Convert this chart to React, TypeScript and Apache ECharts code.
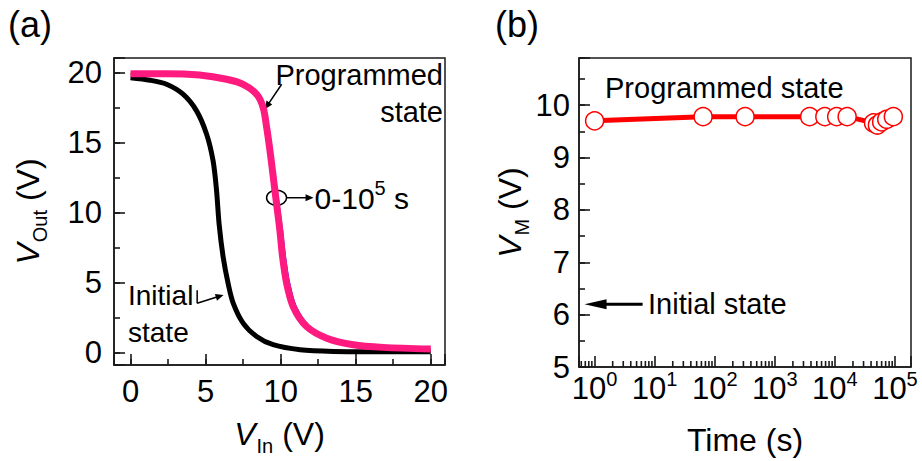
import React, { useEffect, useRef } from 'react';
import * as echarts from 'echarts';

const FONT = "'Liberation Sans', Arial, Helvetica, sans-serif";
const INK = '#000';
const AX = '#1a1a1a';

// ---------- Panel (a): transfer curves ----------
const vInInitial = [0, 1.3, 2.4, 3.5, 4.4, 5.07, 5.5, 5.73, 5.9, 6.17, 6.5, 6.84, 7.5, 8.4, 9.5, 11.3, 13.5, 16, 20];
const vOutInitial = [19.64, 19.46, 19.17, 18.46, 17.27, 15.6, 13.7, 11.6, 9.2, 6.83, 4.94, 3.52, 2.09, 1.14, 0.55, 0.19, 0.07, 0.05, 0.05];

const vOutProg = [19.93, 19.93, 19.83, 19.53, 19.17, 18.46, 17.5, 16.08, 14.43, 12.53, 10.63, 8.73, 6.83, 4.94, 3.27, 1.85, 1.02, 0.55, 0.36, 0.24];
const vInProgPink = [0, 2.4, 4.6, 6.4, 7.5, 8.4, 8.84, 9.07, 9.29, 9.51, 9.73, 9.95, 10.13, 10.4, 10.84, 11.73, 13.07, 14.84, 16.84, 20];
const vInProgBlue = [0, 2.4, 4.6, 6.4, 7.55, 8.45, 8.9, 9.14, 9.38, 9.62, 9.86, 10.1, 10.3, 10.58, 11.02, 11.92, 13.27, 15.04, 17.0, 20];
const vInProgGreen = [0, 2.4, 4.6, 6.35, 7.42, 8.3, 8.74, 8.98, 9.2, 9.43, 9.66, 9.88, 10.06, 10.33, 10.77, 11.66, 13.0, 14.78, 16.8, 20];
const vInProgOrange = [0, 2.4, 4.6, 6.38, 7.46, 8.35, 8.79, 9.02, 9.25, 9.47, 9.7, 9.92, 10.1, 10.37, 10.8, 11.7, 13.04, 14.8, 16.82, 20];

// ---------- Panel (b): retention ----------
const timeS = [1, 64, 320, 3800, 6800, 10700, 16000, 44000, 51000, 60000, 73000, 94000];
const vM = [9.70, 9.78, 9.78, 9.78, 9.78, 9.78, 9.78, 9.66, 9.62, 9.68, 9.73, 9.78];

const logMinorMultipliers = [2, 3, 4, 5, 6, 7, 8, 9];
const logDecadeStarts = [0.1, 1, 10, 100, 1000, 10000];

const X_B_MIN = 0.55;
const X_B_MAX = 185000;
const Y_B_MIN = 5;

const zip = (xs: number[], ys: number[]) => xs.map((x, i) => [x, ys[i]]);

const minorLogTicks: number[] = [];
logDecadeStarts.forEach((d) => {
  logMinorMultipliers.forEach((m) => {
    const v = m * d;
    if (v >= X_B_MIN && v <= X_B_MAX) minorLogTicks.push(v);
  });
});

const axisLine = () => ({ show: true, onZero: false, lineStyle: { color: AX, width: 1.5 } });
const noLine = () => ({ show: false, onZero: false });
const majorTick = () => ({ show: true, inside: true, length: 11, lineStyle: { color: AX, width: 1.6 } });
const minorTick = () => ({ show: true, inside: true, length: 6, lineStyle: { color: AX, width: 1.6 } });

const nameRich = {
  it: { fontFamily: FONT, fontSize: 32, fontStyle: 'italic', lineHeight: 32, verticalAlign: 'top', color: INK },
  sub: { fontFamily: FONT, fontSize: 20, lineHeight: 20, verticalAlign: 'top', padding: [18, 0, 0, 1], color: INK },
  n: { fontFamily: FONT, fontSize: 32, lineHeight: 32, verticalAlign: 'top', color: INK },
};

const mult5 = (v: number) => (Math.abs(v / 5 - Math.round(v / 5)) < 1e-6 ? String(Math.round(v)) : '');
const intOnly = (v: number) => (Math.abs(v - Math.round(v)) < 1e-6 ? String(Math.round(v)) : '');

function arrow(p1: number[], p2: number[], lw: number, hl: number, hw: number) {
  const dx = p2[0] - p1[0];
  const dy = p2[1] - p1[1];
  const L = Math.hypot(dx, dy);
  const ux = dx / L;
  const uy = dy / L;
  const bx = p2[0] - ux * hl;
  const by = p2[1] - uy * hl;
  return [
    { type: 'line', silent: true, shape: { x1: p1[0], y1: p1[1], x2: bx + ux, y2: by + uy }, style: { stroke: INK, lineWidth: lw } },
    {
      type: 'polygon', silent: true,
      shape: { points: [[p2[0], p2[1]], [bx - uy * hw, by + ux * hw], [bx + uy * hw, by - ux * hw]] },
      style: { fill: INK },
    },
  ];
}

export default function App() {
  const ref = useRef<HTMLDivElement>(null);
  useEffect(() => {
    if (!ref.current) return;
    const chart = echarts.init(ref.current, null, { renderer: 'svg' });
    const option: any = {
      animation: false,
      backgroundColor: '#fff',
      title: [
        { text: '(a)', left: 8, top: 6, padding: 0, textStyle: { fontFamily: FONT, fontSize: 36, fontWeight: 'normal', color: INK } },
        { text: '(b)', left: 495, top: 6, padding: 0, textStyle: { fontFamily: FONT, fontSize: 36, fontWeight: 'normal', color: INK } },
      ],
      grid: [
        { left: 114, top: 58, width: 331, height: 308, show: true, borderColor: AX, borderWidth: 1.5, backgroundColor: 'transparent' },
        { left: 579, top: 58, width: 332, height: 310, show: true, borderColor: AX, borderWidth: 1.5, backgroundColor: 'transparent' },
      ],
      xAxis: [
        {
          gridIndex: 0, type: 'value', position: 'bottom', min: -1.1, max: 20.95, minInterval: 5, maxInterval: 5,
          axisLine: axisLine(), axisTick: majorTick(), splitLine: { show: false },
          axisLabel: { formatter: mult5, fontFamily: FONT, fontSize: 31, color: INK, margin: 11 },
          name: '{it|V}{sub|In}{n| (V)}', nameLocation: 'middle', nameGap: 53,
          nameTextStyle: { fontFamily: FONT, fontSize: 32, color: INK, rich: nameRich },
        },
        {
          gridIndex: 0, type: 'value', position: 'bottom', min: -1.1, max: 20.95, minInterval: 2.5, maxInterval: 2.5,
          axisLine: noLine(), axisTick: minorTick(), axisLabel: { show: false }, splitLine: { show: false },
        },
        {
          gridIndex: 1, type: 'log', logBase: 10, position: 'bottom', min: X_B_MIN, max: X_B_MAX,
          axisLine: axisLine(), axisTick: majorTick(), splitLine: { show: false },
          axisLabel: {
            margin: 2,
            formatter: (v: number) => {
              const l = Math.log10(v);
              const r = Math.round(l);
              if (Math.abs(l - r) > 1e-6) return '';
              return `{b|10}{s|${r}}`;
            },
            rich: {
              b: { fontFamily: FONT, fontSize: 31, lineHeight: 28, padding: [4, 0, 0, 0], verticalAlign: 'top', color: INK },
              s: { fontFamily: FONT, fontSize: 20, lineHeight: 14, verticalAlign: 'top', color: INK },
            },
          },
          name: 'Time (s)', nameLocation: 'middle', nameGap: 57,
          nameTextStyle: { fontFamily: FONT, fontSize: 32, color: INK },
        },
      ],
      yAxis: [
        {
          gridIndex: 0, type: 'value', position: 'left', min: -0.9, max: 21.05, minInterval: 5, maxInterval: 5,
          axisLine: axisLine(), axisTick: majorTick(), splitLine: { show: false },
          axisLabel: { formatter: mult5, fontFamily: FONT, fontSize: 31, color: INK, margin: 12 },
          name: '{it|V}{sub|Out}{n| (V)}', nameLocation: 'middle', nameGap: 70,
          nameTextStyle: { fontFamily: FONT, fontSize: 32, color: INK, rich: nameRich },
        },
        {
          gridIndex: 0, type: 'value', position: 'left', min: -0.9, max: 21.05, minInterval: 2.5, maxInterval: 2.5,
          axisLine: noLine(), axisTick: minorTick(), axisLabel: { show: false }, splitLine: { show: false },
        },
        {
          gridIndex: 1, type: 'value', position: 'left', min: Y_B_MIN, max: 10.9, interval: 1,
          axisLine: axisLine(), axisTick: majorTick(), splitLine: { show: false },
          axisLabel: { formatter: intOnly, fontFamily: FONT, fontSize: 31, color: INK, margin: 9 },
          name: '{it|V}{sub|M}{n| (V)}', nameLocation: 'middle', nameGap: 51,
          nameTextStyle: { fontFamily: FONT, fontSize: 32, color: INK, rich: nameRich },
        },
        {
          gridIndex: 1, type: 'value', position: 'left', min: Y_B_MIN, max: 10.9, interval: 0.5,
          axisLine: noLine(), axisTick: minorTick(), axisLabel: { show: false }, splitLine: { show: false },
        },
      ],
      series: [
        {
          type: 'line', xAxisIndex: 0, yAxisIndex: 0, data: zip(vInInitial, vOutInitial), smooth: 0.3,
          symbol: 'none', lineStyle: { color: '#000', width: 5 }, z: 2,
        },
        {
          type: 'line', xAxisIndex: 0, yAxisIndex: 0, data: zip(vInProgBlue, vOutProg), smooth: 0.3,
          symbol: 'none', lineStyle: { color: '#1a1aff', width: 2 }, z: 3,
        },
        {
          type: 'line', xAxisIndex: 0, yAxisIndex: 0, data: zip(vInProgGreen, vOutProg), smooth: 0.3,
          symbol: 'none', lineStyle: { color: '#3a8a10', width: 1.5, type: 'dashed' }, z: 3,
        },
        {
          type: 'line', xAxisIndex: 0, yAxisIndex: 0, data: zip(vInProgOrange, vOutProg), smooth: 0.3,
          symbol: 'none', lineStyle: { color: '#ff8c00', width: 1.5, type: 'dashed' }, z: 3,
        },
        {
          type: 'line', xAxisIndex: 0, yAxisIndex: 0, data: zip(vInProgPink, vOutProg), smooth: 0.3,
          symbol: 'none', lineStyle: { color: '#ff1a80', width: 7 }, z: 4,
        },
        {
          type: 'line', xAxisIndex: 2, yAxisIndex: 2, data: zip(timeS, vM),
          symbol: 'circle', symbolSize: 18,
          lineStyle: { color: '#ff0000', width: 5 },
          itemStyle: { color: '#ffffff', borderColor: '#ff0000', borderWidth: 1.5 },
          z: 3,
        },
        {
          type: 'custom', xAxisIndex: 2, yAxisIndex: 2, silent: true, clip: false,
          data: minorLogTicks.map((v) => [v, Y_B_MIN]),
          renderItem: (params: any, api: any) => {
            const p = api.coord([api.value(0), api.value(1)]);
            return {
              type: 'line',
              shape: { x1: p[0], y1: p[1], x2: p[0], y2: p[1] - 6 },
              style: { stroke: AX, lineWidth: 1.6 },
            };
          },
          z: 5,
        },
      ],
    };
    chart.setOption(option);

    const pa = (p: number[]) => chart.convertToPixel({ seriesIndex: 0 }, p) as number[];
    const pb = (p: number[]) => chart.convertToPixel({ seriesIndex: 5 }, p) as number[];
    const c = pa([9.73, 11.06]);

    const graphic: any[] = [
      { type: 'text', x: 443, y: 75, silent: true, style: { text: 'Programmed', fontFamily: FONT, fontSize: 29, fill: INK, align: 'right', verticalAlign: 'middle' } },
      { type: 'text', x: 443, y: 112, silent: true, style: { text: 'state', fontFamily: FONT, fontSize: 29, fill: INK, align: 'right', verticalAlign: 'middle' } },
      ...arrow(pa([10.07, 19.17]), pa([8.95, 17.39]), 1.5, 8, 3.5),
      { type: 'ellipse', silent: true, shape: { cx: c[0], cy: c[1], rx: 10, ry: 7.5 }, style: { fill: 'none', stroke: INK, lineWidth: 1.5 } },
      ...arrow([c[0] + 10, c[1]], [c[0] + 37, c[1]], 1.5, 8, 3.5),
      {
        type: 'text', x: c[0] + 38, y: c[1] - 20, silent: true,
        style: {
          text: '{m|0-10}{p|5}{m| s}', align: 'left', verticalAlign: 'top',
          rich: {
            m: { fontFamily: FONT, fontSize: 30, lineHeight: 28, padding: [6, 0, 0, 0], verticalAlign: 'top', fill: INK },
            p: { fontFamily: FONT, fontSize: 20, lineHeight: 14, verticalAlign: 'top', fill: INK },
          },
        },
      },
      { type: 'text', x: 128, y: 295, silent: true, style: { text: 'Initial', fontFamily: FONT, fontSize: 28, fill: INK, align: 'left', verticalAlign: 'middle' } },
      { type: 'text', x: 128, y: 332, silent: true, style: { text: 'state', fontFamily: FONT, fontSize: 28, fill: INK, align: 'left', verticalAlign: 'middle' } },
      (() => {
        const a = pa([4.44, 4.45]);
        const b = pa([4.44, 3.52]);
        return { type: 'line', silent: true, shape: { x1: a[0], y1: a[1], x2: b[0], y2: b[1] }, style: { stroke: INK, lineWidth: 1.5 } };
      })(),
      ...arrow(pa([4.44, 3.52]), pa([6.2, 4.11]), 1.5, 8, 3.5),
      { type: 'text', x: 605, y: 88, silent: true, style: { text: 'Programmed state', fontFamily: FONT, fontSize: 29, fill: INK, align: 'left', verticalAlign: 'middle' } },
      { type: 'text', x: 648, y: 304, silent: true, style: { text: 'Initial state', fontFamily: FONT, fontSize: 29, fill: INK, align: 'left', verticalAlign: 'middle' } },
      ...arrow(pb([6.3, 6.2]), pb([0.68, 6.2]), 3, 22, 5),
    ];
    chart.setOption({ graphic });

    return () => chart.dispose();
  }, []);
  return <div ref={ref} style={{ position: 'absolute', left: 0, top: 0, width: 922, height: 461 }} />;
}
